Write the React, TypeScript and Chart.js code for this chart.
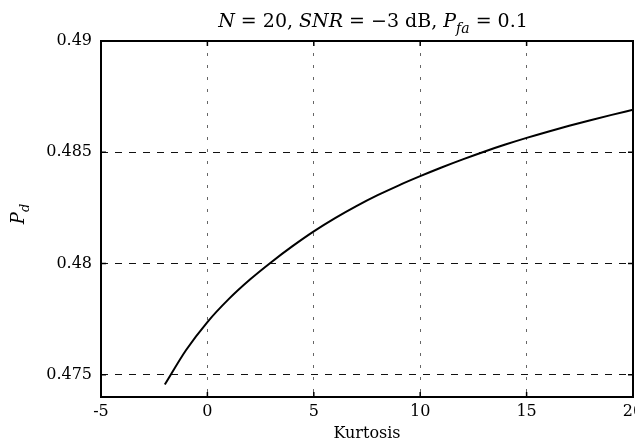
import React, { useEffect, useRef } from "react";
import { Chart, registerables } from "chart.js";

Chart.register(...registerables);

const kurtosis = [-2, -1, 0, 1, 2, 3, 4, 5, 6, 7, 8, 9, 10, 11, 12, 13, 14, 15, 16, 17, 18, 19, 20];
const pd = [
  0.47456, 0.47611, 0.47737, 0.4784, 0.47928, 0.48006, 0.48078, 0.481445, 0.48204, 0.48258,
  0.48307, 0.483515, 0.483925, 0.484315, 0.48468, 0.485025, 0.485345, 0.485645, 0.485925,
  0.48619, 0.48644, 0.48668, 0.48691,
];
const xTicks = [-5, 0, 5, 10, 15, 20];
const xTickLabels = ["-5", "0", "5", "10", "15", "20"];
const yTicks = [0.475, 0.48, 0.485, 0.49];
const yTickLabels = ["0.475", "0.48", "0.485", "0.49"];
const xTitle = "Kurtosis";

const SERIF = '"DejaVu Serif", "Liberation Serif", serif';

type Seg = { t: string; it?: boolean; sub?: boolean };
const titleSegs: Seg[] = [
  { t: "N", it: true },
  { t: " = 20, " },
  { t: "SNR", it: true },
  { t: " = \u22123 dB, " },
  { t: "P", it: true },
  { t: "fa", it: true, sub: true },
  { t: " = 0.1" },
];
const yTitleSegs: Seg[] = [
  { t: "P", it: true },
  { t: "d", it: true, sub: true },
];

function drawSegs(ctx: CanvasRenderingContext2D, segs: Seg[], cx: number, baseline: number, size: number) {
  const fontFor = (s: Seg) => `${s.it ? "italic " : ""}${s.sub ? Math.round(size * 0.72) : size}px ${SERIF}`;
  let total = 0;
  for (const s of segs) {
    ctx.font = fontFor(s);
    total += ctx.measureText(s.t).width;
  }
  let x = cx - total / 2;
  ctx.textAlign = "left";
  ctx.textBaseline = "alphabetic";
  ctx.fillStyle = "#000";
  for (const s of segs) {
    ctx.font = fontFor(s);
    ctx.fillText(s.t, x, baseline + (s.sub ? size * 0.3 : 0));
    x += ctx.measureText(s.t).width;
  }
}

const decorPlugin = {
  id: "decor",
  afterDraw(chart: any) {
    const { ctx, chartArea } = chart;
    const { left, right, top, bottom } = chartArea;
    const xs = chart.scales.x;
    const ys = chart.scales.y;
    ctx.save();
    // frame
    ctx.strokeStyle = "#000";
    ctx.lineWidth = 2;
    ctx.strokeRect(left, top, right - left, bottom - top);
    // inward tick marks
    ctx.lineWidth = 1.5;
    ctx.beginPath();
    for (const v of xTicks) {
      const px = xs.getPixelForValue(v);
      ctx.moveTo(px, bottom);
      ctx.lineTo(px, bottom - 5);
      ctx.moveTo(px, top);
      ctx.lineTo(px, top + 5);
    }
    for (const v of yTicks) {
      const py = ys.getPixelForValue(v);
      ctx.moveTo(left, py);
      ctx.lineTo(left + 5, py);
      ctx.moveTo(right, py);
      ctx.lineTo(right - 5, py);
    }
    ctx.stroke();
    // title
    drawSegs(ctx, titleSegs, 373, 27, 19);
    // x title
    ctx.font = `16px ${SERIF}`;
    ctx.textAlign = "center";
    ctx.textBaseline = "middle";
    ctx.fillStyle = "#000";
    ctx.fillText(xTitle, (left + right) / 2, 434);
    // y title
    ctx.save();
    ctx.translate(24, 214);
    ctx.rotate(-Math.PI / 2);
    drawSegs(ctx, yTitleSegs, 0, 0, 18);
    ctx.restore();
    ctx.restore();
  },
};

export default function App() {
  const ref = useRef<HTMLCanvasElement>(null);
  useEffect(() => {
    if (!ref.current) return;
    const chart = new Chart(ref.current, {
      type: "line",
      data: {
        datasets: [
          {
            data: kurtosis.map((x, i) => ({ x, y: pd[i] })),
            borderColor: "#000",
            borderWidth: 2,
            pointRadius: 0,
            fill: false,
            cubicInterpolationMode: "monotone",
          },
        ],
      },
      options: {
        animation: false,
        responsive: false,
        devicePixelRatio: 1,
        layout: { padding: { top: 41, right: 2, left: 0, bottom: 0 } },
        plugins: { legend: { display: false }, tooltip: { enabled: false }, title: { display: false } },
        scales: {
          x: {
            type: "linear",
            min: -5,
            max: 20,
            afterBuildTicks: (s: any) => {
              s.ticks = xTicks.map((v) => ({ value: v }));
            },
            afterFit: (s: any) => {
              s.height = 48;
              s.paddingLeft = 0;
              s.paddingRight = 0;
            },
            ticks: {
              autoSkip: false,
              maxRotation: 0,
              padding: 5,
              color: "#000",
              font: { family: SERIF, size: 16 },
              callback: (v: any) => {
                const i = xTicks.indexOf(Number(v));
                return i >= 0 ? xTickLabels[i] : "";
              },
            },
            grid: { color: "#666", lineWidth: 1, drawTicks: false },
            border: { display: false, dash: [3, 9] },
          },
          y: {
            type: "linear",
            min: 0.474,
            max: 0.49,
            afterBuildTicks: (s: any) => {
              s.ticks = yTicks.map((v) => ({ value: v }));
            },
            afterFit: (s: any) => {
              s.width = 101;
              s.paddingTop = 0;
              s.paddingBottom = 0;
            },
            ticks: {
              autoSkip: false,
              padding: 9,
              color: "#000",
              font: { family: SERIF, size: 16 },
              callback: (v: any) => {
                const i = yTicks.findIndex((t) => Math.abs(t - Number(v)) < 1e-9);
                return i >= 0 ? yTickLabels[i] : "";
              },
            },
            grid: { color: "#111", lineWidth: 1, drawTicks: false },
            border: { display: false, dash: [7, 7] },
          },
        },
      },
      plugins: [decorPlugin],
    } as any);
    return () => chart.destroy();
  }, []);
  return (
    <div style={{ position: "fixed", left: 0, top: 0, width: 635, height: 445, background: "#fff" }}>
      <canvas ref={ref} width={635} height={445} style={{ display: "block" }} />
    </div>
  );
}
